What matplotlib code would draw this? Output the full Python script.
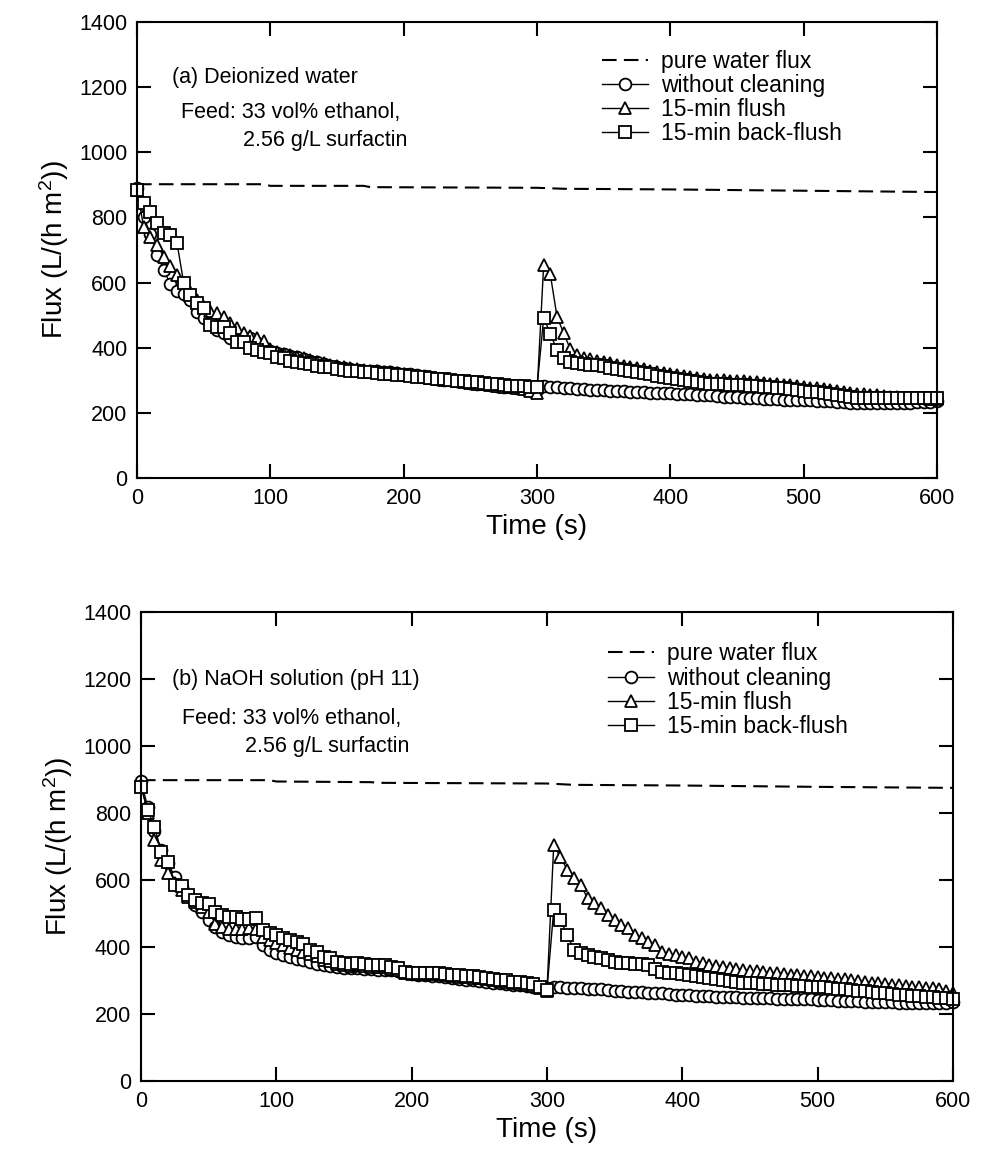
import numpy as np
import matplotlib
matplotlib.use("Agg")
import matplotlib.pyplot as plt

plt.rcParams["font.family"] = ["Liberation Sans", "DejaVu Sans"]
plt.rcParams["mathtext.fontset"] = "custom"
plt.rcParams["mathtext.rm"] = "Liberation Sans"
plt.rcParams["mathtext.it"] = "Liberation Sans:italic"

# sampling grid, one reading every 5 s
time_s = np.arange(0, 601, 5)

# pure water flux (dashed reference line)
pure_t = [0, 50, 95, 100, 170, 175, 300, 320, 400, 500, 600]
pure_a = [902, 902, 902, 897, 897, 893, 891, 888, 886, 882, 878]
pure_b = [898, 898, 898, 894, 892, 890, 888, 884, 882, 878, 875]

# (a) deionized water
a_none = [
    890, 800, 750, 685, 640, 595, 575, 565, 545, 510,
    490, 475, 455, 445, 430, 425, 430, 430, 415, 400,
    390, 385, 380, 375, 370, 365, 360, 355, 350, 345,
    340, 338, 335, 333, 330, 330, 328, 325, 325, 322,
    320, 318, 315, 312, 310, 305, 302, 300, 298, 295,
    293, 290, 288, 285, 283, 280, 278, 275, 272, 270,
    270, 282, 280, 278, 277, 275, 274, 272, 271, 270,
    269, 268, 267, 266, 265, 264, 263, 262, 262, 261,
    260, 259, 258, 257, 256, 255, 254, 252, 250, 249,
    248, 247, 246, 245, 244, 243, 242, 241, 240, 240,
    239, 238, 237, 236, 235, 234, 232, 231, 230, 230,
    230, 230, 229, 229, 230, 230, 231, 232, 232, 233,
    235,
]
a_flush = [
    885, 770, 740, 715, 680, 650, 622, 600, 570, 545,
    525, 512, 506, 495, 475, 460, 445, 435, 430, 420,
    395, 388, 382, 378, 372, 368, 362, 357, 352, 348,
    343, 340, 337, 334, 332, 330, 328, 326, 324, 322,
    320, 317, 314, 311, 308, 305, 302, 300, 298, 295,
    292, 290, 288, 286, 283, 280, 278, 276, 272, 268,
    262, 655, 625, 495, 445, 395, 378, 368, 364, 360,
    356, 352, 348, 344, 340, 337, 334, 330, 326, 322,
    319, 316, 313, 310, 307, 304, 302, 301, 300, 299,
    298, 297, 296, 294, 292, 290, 288, 287, 285, 283,
    280, 277, 275, 273, 270, 267, 264, 261, 259, 257,
    256, 254, 252, 250, 248, 247, 246, 245, 245, 244,
    244,
]
a_back = [
    884, 844, 817, 783, 752, 746, 721, 599, 562, 537,
    522, 470, 464, 464, 445, 418, 418, 399, 393, 387,
    384, 370, 368, 360, 355, 352, 350, 345, 342, 340,
    336, 333, 330, 328, 326, 324, 322, 320, 318, 316,
    315, 313, 311, 309, 307, 305, 303, 301, 299, 298,
    296, 294, 292, 290, 288, 286, 284, 282, 281, 280,
    278, 492, 443, 392, 368, 356, 352, 350, 348, 347,
    343, 339, 335, 331, 327, 325, 322, 318, 314, 310,
    307, 304, 301, 298, 295, 292, 290, 289, 288, 287,
    286, 285, 284, 282, 280, 278, 276, 275, 273, 271,
    268, 265, 263, 261, 258, 255, 252, 249, 247, 246,
    245, 245, 245, 245, 245, 245, 245, 245, 245, 246,
    246,
]

# (b) NaOH solution
b_none = [
    895, 818, 745, 690, 650, 610, 580, 555, 525, 505,
    480, 460, 445, 436, 431, 426, 426, 431, 405, 390,
    382, 376, 370, 365, 360, 355, 350, 346, 342, 340,
    338, 337, 336, 334, 333, 332, 331, 330, 328, 324,
    318, 316, 315, 314, 313, 310, 307, 304, 302, 300,
    298, 296, 294, 292, 290, 288, 286, 284, 282, 280,
    278, 281, 280, 279, 278, 277, 276, 275, 274, 272,
    270, 268, 267, 266, 265, 264, 263, 262, 260, 258,
    257, 256, 255, 254, 253, 252, 251, 250, 250, 249,
    249, 248, 248, 247, 246, 246, 245, 245, 244, 244,
    243, 242, 241, 240, 239, 238, 238, 237, 236, 236,
    235, 235, 234, 234, 234, 233, 233, 233, 234, 234,
    235,
]
b_flush = [
    885, 800, 719, 660, 620, 590, 570, 550, 535, 520,
    505, 470, 460, 455, 455, 455, 458, 455, 430, 420,
    412, 405, 398, 392, 386, 378, 372, 362, 358, 350,
    346, 344, 345, 343, 341, 340, 339, 335, 330, 322,
    320, 319, 319, 318, 318, 316, 313, 311, 310, 308,
    306, 303, 301, 298, 296, 293, 291, 288, 285, 278,
    268, 704, 669, 630, 606, 585, 546, 531, 516, 495,
    481, 466, 456, 436, 426, 416, 406, 385, 380, 376,
    371, 366, 356, 351, 346, 343, 340, 337, 334, 331,
    329, 327, 325, 323, 321, 319, 317, 316, 314, 312,
    310, 308, 307, 305, 303, 301, 299, 296, 294, 292,
    290, 288, 286, 284, 282, 280, 278, 277, 275, 270,
    262,
]
b_back = [
    878, 809, 758, 684, 654, 585, 582, 555, 540, 531,
    528, 504, 495, 490, 490, 485, 485, 487, 451, 442,
    437, 427, 422, 415, 410, 391, 386, 371, 366, 356,
    352, 349, 352, 349, 346, 346, 346, 341, 336, 325,
    323, 322, 322, 322, 322, 320, 317, 315, 314, 312,
    310, 307, 305, 302, 300, 297, 295, 292, 290, 281,
    272, 510, 481, 436, 391, 381, 376, 371, 366, 361,
    356, 352, 351, 350, 348, 345, 335, 325, 323, 321,
    318, 315, 312, 309, 307, 303, 300, 298, 296, 294,
    293, 292, 291, 290, 288, 287, 286, 285, 284, 282,
    281, 280, 278, 276, 274, 272, 270, 268, 266, 264,
    262, 260, 258, 257, 255, 253, 251, 250, 249, 248,
    245,
]

PANELS = [
    {
        "rect": [0.1394, 0.5897, 0.8138, 0.3914],
        "pure": pure_a,
        "series": (a_none, a_flush, a_back),
        "legend_at": (0.581, 0.939),
        "notes": [
            ("(a) Deionized water", 0.044, 0.879),
            ("Feed: 33 vol% ethanol,", 0.055, 0.802),
            ("2.56 g/L surfactin", 0.1325, 0.741),
        ],
    },
    {
        "rect": [0.1434, 0.0721, 0.826, 0.4026],
        "pure": pure_b,
        "series": (b_none, b_flush, b_back),
        "legend_at": (0.575, 0.935),
        "notes": [
            ("(b) NaOH solution (pH 11)", 0.038, 0.857),
            ("Feed: 33 vol% ethanol,", 0.05, 0.773),
            ("2.56 g/L surfactin", 0.128, 0.714),
        ],
    },
]

LABELS = ["without cleaning", "15-min flush", "15-min back-flush"]
MARKERS = ["o", "^", "s"]

fig = plt.figure(figsize=(9.83, 11.65), dpi=100)

for panel in PANELS:
    ax = fig.add_axes(panel["rect"])
    ax.plot(pure_t, panel["pure"], color="black", lw=1.5, linestyle=(0, (7, 3.5)),
            label="pure water flux")
    for values, label, marker in zip(panel["series"], LABELS, MARKERS):
        ax.plot(time_s, values, color="black", lw=1.0, marker=marker, ms=8.5,
                mfc="white", mec="black", mew=1.3, label=label, clip_on=False)

    ax.set_xlim(0, 600)
    ax.set_ylim(0, 1400)
    ax.set_xticks(range(0, 601, 100))
    ax.set_yticks(range(0, 1401, 200))
    ax.tick_params(direction="in", length=10, width=1.5, top=True, right=True,
                   labelsize=15.5, pad=7)
    for spine in ax.spines.values():
        spine.set_linewidth(1.5)
    ax.set_xlabel("Time (s)", fontsize=20, labelpad=4)
    ax.set_ylabel(r"Flux (L/(h m$^{2}$))", fontsize=20, labelpad=6)

    for text, x, y in panel["notes"]:
        ax.text(x, y, text, transform=ax.transAxes, fontsize=15.5, va="center", ha="left")

    ax.legend(loc="upper left", bbox_to_anchor=panel["legend_at"], frameon=False,
              fontsize=16.5, handlelength=2.0, handletextpad=0.6, labelspacing=0.05,
              borderaxespad=0, borderpad=0)

fig.savefig("out.png", dpi=100)
